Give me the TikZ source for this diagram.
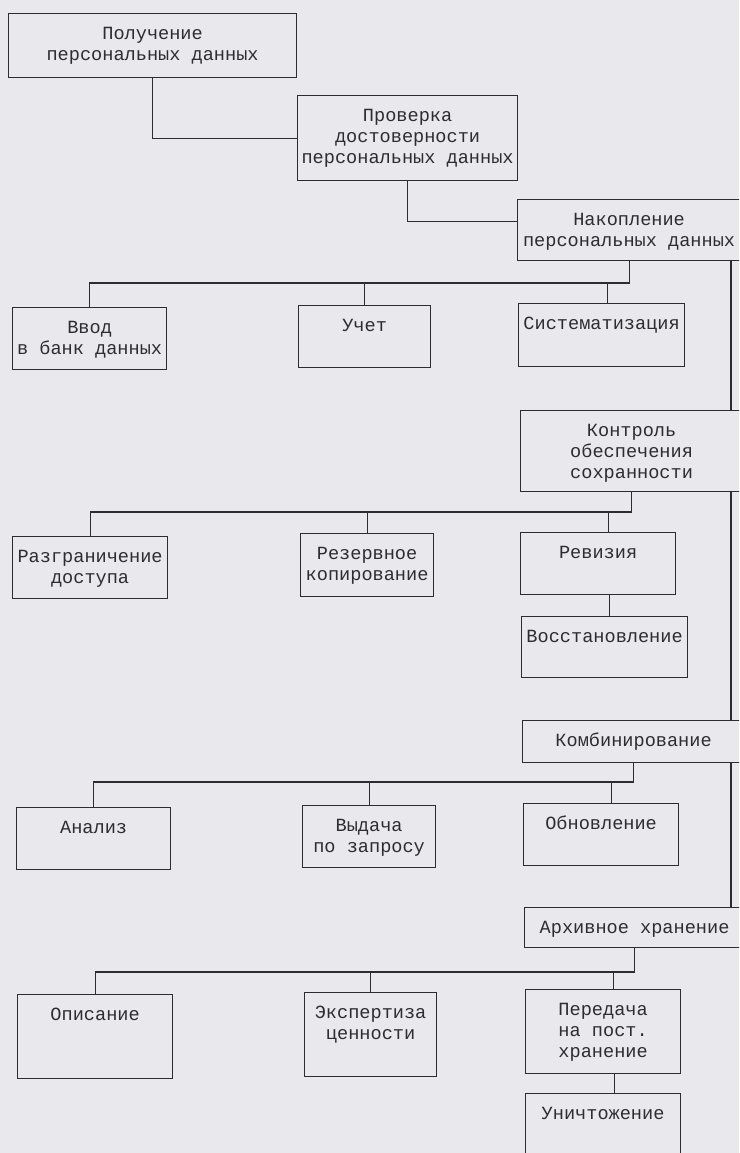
\documentclass[tikz,border=0pt]{standalone}
\usepackage{fontspec}
\newfontfamily\stagefont{Liberation Mono}

\definecolor{paper}{RGB}{233,233,237}
\definecolor{ink}{RGB}{45,45,48}

\newcommand{\stagebox}[3]{\parbox[c][#2pt][t]{#1pt}{\stagefont\fontsize{18.6}{21}\selectfont\centering\rule{0pt}{26pt}#3}}

\tikzset{
  stage/.style={draw=ink,line width=1.2pt,inner sep=0pt,anchor=north west,text=ink},
  link/.style={draw=ink,line width=1.2pt}
}

\begin{document}
\begin{tikzpicture}[x=1pt,y=-1pt]

\useasboundingbox[fill=paper] (0,0) rectangle (739,1153);
\clip (0,0) rectangle (739,1153);

\coordinate (busa) at (0,283);
\coordinate (busb) at (0,512);
\coordinate (busc) at (0,782);
\coordinate (busd) at (0,972);
\coordinate (rail) at (731,0);

\node[stage] (poluch) at (8,13) {\stagebox{288}{64}{Получение\\персональных данных}};
\node[stage] (prov) at (297,95) {\stagebox{220}{85}{Проверка\\достоверности\\персональных данных}};
\node[stage] (nakop) at (517,199) {\stagebox{223}{61}{Накопление\\персональных данных}};

\node[stage] (vvod) at (12,307) {\stagebox{154}{62}{Ввод\\в банк данных}};
\node[stage] (uchet) at (298,305) {\stagebox{132}{62}{Учет}};
\node[stage] (sistem) at (518,303) {\stagebox{166}{63}{Систематизация}};

\node[stage] (kontr) at (520,410) {\stagebox{222}{81}{Контроль\\обеспечения\\сохранности}};

\node[stage] (razgr) at (12,536) {\stagebox{155}{62}{Разграничение\\доступа}};
\node[stage] (rezerv) at (300,533) {\stagebox{133}{63}{Резервное\\копирование}};
\node[stage] (reviz) at (520,532) {\stagebox{155}{62}{Ревизия}};
\node[stage] (vosst) at (521,616) {\stagebox{166}{61}{Восстановление}};

\node[stage] (kombin) at (522,720) {\stagebox{222}{42}{Комбинирование}};

\node[stage] (analiz) at (16,807) {\stagebox{154}{62}{Анализ}};
\node[stage] (vydacha) at (302,805) {\stagebox{133}{62}{Выдача\\по запросу}};
\node[stage] (obnovl) at (523,803) {\stagebox{155}{62}{Обновление}};

\node[stage] (arhiv) at (524,907) {\stagebox{220}{40}{Архивное хранение}};

\node[stage] (opis) at (17,994) {\stagebox{155}{84}{Описание}};
\node[stage] (ekspert) at (304,992) {\stagebox{132}{84}{Экспертиза\\ценности}};
\node[stage] (peredacha) at (525,989) {\stagebox{155}{84}{Передача\\на пост.\\хранение}};
\node[stage] (unich) at (525,1093) {\stagebox{155}{80}{Уничтожение}};

% top chain
\draw[link] (poluch.south) |- (prov.west);
\draw[link] (prov.south) |- ([yshift=8.5pt]nakop.west);

% first row
\draw[link] (nakop.south) |- (busa -| vvod.north) -- (vvod.north);
\draw[link] (uchet.north) -- (uchet.north |- busa);
\draw[link] ([xshift=6pt]sistem.north) -- ([xshift=6pt]sistem.north |- busa);

% second row
\draw[link] (kontr.south) |- (busb -| razgr.north) -- (razgr.north);
\draw[link] (rezerv.north) -- (rezerv.north |- busb);
\draw[link] ([xshift=10pt]reviz.north) -- ([xshift=10pt]reviz.north |- busb);
\draw[link] ([xshift=11pt]reviz.south) -- ([xshift=11pt]reviz.south |- vosst.north);

% third row
\draw[link] (kombin.south) |- (busc -| analiz.north) -- (analiz.north);
\draw[link] (vydacha.north) -- (vydacha.north |- busc);
\draw[link] ([xshift=10.5pt]obnovl.north) -- ([xshift=10.5pt]obnovl.north |- busc);

% fourth row
\draw[link] (arhiv.south) |- (busd -| opis.north) -- (opis.north);
\draw[link] (ekspert.north) -- (ekspert.north |- busd);
\draw[link] ([xshift=10.5pt]peredacha.north) -- ([xshift=10.5pt]peredacha.north |- busd);
\draw[link] ([xshift=11.5pt]peredacha.south) -- ([xshift=11.5pt]peredacha.south |- unich.north);

% right rail
\draw[link] (nakop.south -| rail) -- (kontr.north -| rail);
\draw[link] (kontr.south -| rail) -- (kombin.north -| rail);
\draw[link] (kombin.south -| rail) -- (arhiv.north -| rail);

\end{tikzpicture}
\end{document}
